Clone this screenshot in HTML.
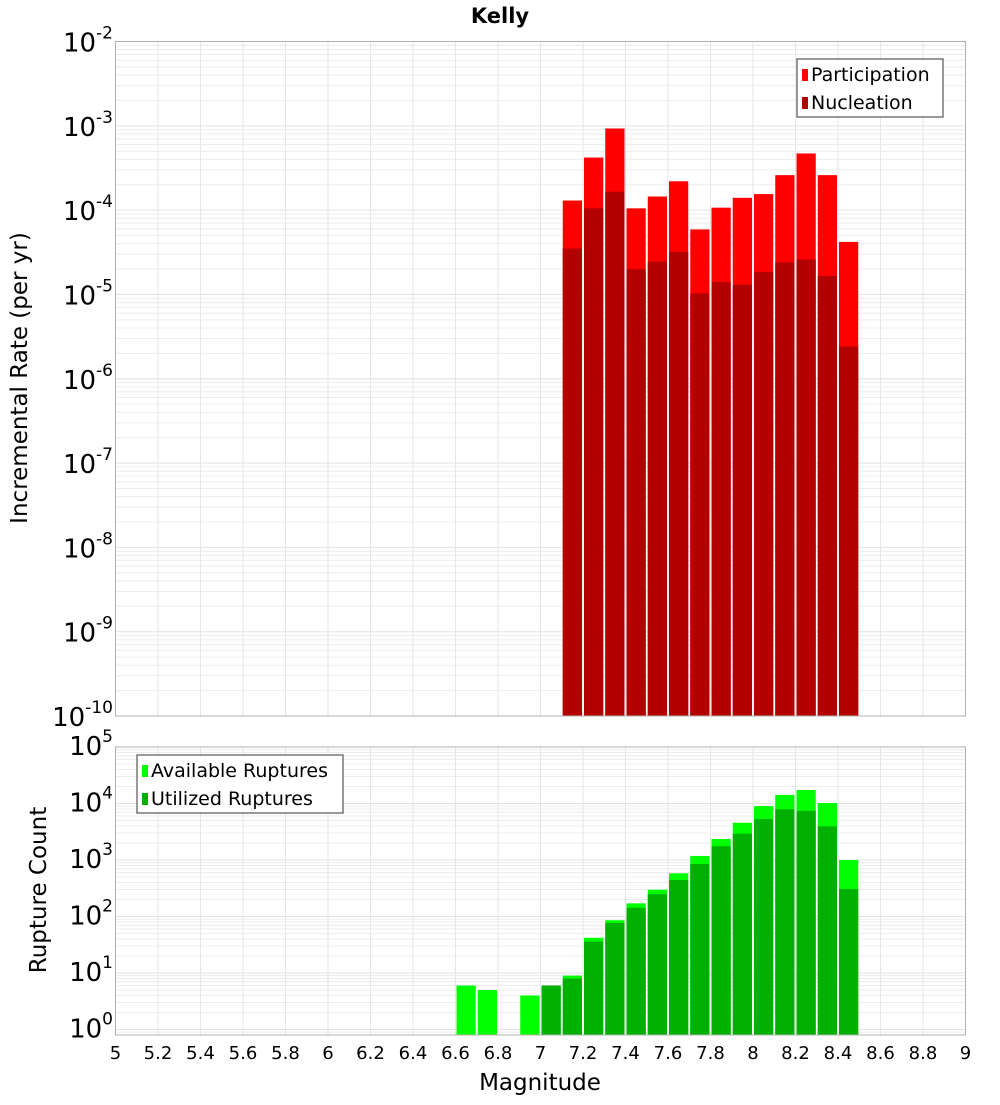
<!DOCTYPE html>
<html><head><meta charset="utf-8"><style>
body{margin:0;background:#fff;}
svg text{font-family:"DejaVu Sans","Liberation Sans",sans-serif;}
</style></head><body>
<svg id="c" width="1000" height="1100" xmlns="http://www.w3.org/2000/svg"></svg>
<script>
const mags=[7.15,7.25,7.35,7.45,7.55,7.65,7.75,7.85,7.95,8.05,8.15,8.25,8.35,8.45];
const participation=[1.3e-4,4.2e-4,9.3e-4,1.05e-4,1.45e-4,2.2e-4,5.9e-5,1.07e-4,1.4e-4,1.55e-4,2.6e-4,4.7e-4,2.6e-4,4.2e-5];
const nucleation=[3.5e-5,1.05e-4,1.65e-4,2.0e-5,2.45e-5,3.2e-5,1.03e-5,1.4e-5,1.3e-5,1.85e-5,2.4e-5,2.6e-5,1.65e-5,2.4e-6];
const countMags=[6.65,6.75,6.95,7.05,7.15,7.25,7.35,7.45,7.55,7.65,7.75,7.85,7.95,8.05,8.15,8.25,8.35,8.45];
const available=[6,5,4,6,9,42,86,171,298,582,1180,2350,4570,9000,14200,17300,10200,1000];
const utilized=[0,0,0,6,8,36,77,143,247,443,850,1750,2920,5300,7900,7400,3950,307];
const xTicks=[5,5.2,5.4,5.6,5.8,6,6.2,6.4,6.6,6.8,7,7.2,7.4,7.6,7.8,8,8.2,8.4,8.6,8.8,9];
const topExps=[-2,-3,-4,-5,-6,-7,-8,-9,-10];
const botExps=[5,4,3,2,1,0];

const svg=document.getElementById('c');
const NS='http://www.w3.org/2000/svg';
function el(tag,attrs,parent){const e=document.createElementNS(NS,tag);for(const k in attrs)e.setAttribute(k,attrs[k]);(parent||svg).appendChild(e);return e;}
const L=115.5,R=965.5;
const X=v=>L+(v-5)/4*(R-L);
const T0=41.5,T1=716;
const YT=v=>T0+(-2-Math.log10(v))/8*(T1-T0);
const B0=747,B1=1035,bmin=-0.097,bmax=5;
const YB=v=>B0+(bmax-Math.log10(v))/(bmax-bmin)*(B1-B0);

function grid(top,bot,Y,emin,emax){
  const g=el('g',{});
  
  
  for(let e=Math.floor(emin);e<=emax;e++){for(let m=1;m<10;m++){const v=m*Math.pow(10,e);const y=Y(v);if(y<top-0.1||y>bot+0.1)continue;
    el('line',{x1:L,x2:R,y1:y,y2:y,stroke:m==1?'#e2e2e2':'#ececec','stroke-width':1},g);}}
  xTicks.forEach(t=>{const x=X(t);el('line',{x1:x,x2:x,y1:top,y2:bot,stroke:'#e6e6e6','stroke-width':1},g);});
}
grid(T0,T1,YT,-10,-2);
grid(B0,B1,YB,-1,5);

function bars(ms,vals,color,Y,base,name){
  const g=el('g',{});
  
  
  ms.forEach((m,i)=>{if(vals[i]<=0)return;const x0=X(m-0.05)+1,x1=X(m+0.05)-1;const y=Y(vals[i]);
    const r=el('rect',{x:x0,y:y,width:x1-x0,height:base-y,fill:color},g);
    
    });
}
bars(mags,participation,'#ff0000',YT,T1,'participation');
bars(mags,nucleation,'#b30000',YT,T1,'nucleation');
bars(countMags,available,'#00ff00',YB,B1,'available-ruptures');
bars(countMags,utilized,'#00b000',YB,B1,'utilized-ruptures');

el('rect',{x:L,y:T0,width:R-L,height:T1-T0,fill:'none',stroke:'#b0b0b0'});
el('rect',{x:L,y:B0,width:R-L,height:B1-B0,fill:'none',stroke:'#b0b0b0'});

function ylab(exp,y,name){const t=el('text',{x:113,y:y+10,'text-anchor':'end','font-size':26,fill:'#000'});
  
  
  t.textContent='10';const s=el('tspan',{dy:-13,'font-size':17},t);s.textContent=String(exp);}
topExps.forEach(e=>ylab(e,YT(Math.pow(10,e)),'y-tick-top'));
botExps.forEach(e=>ylab(e,YB(Math.pow(10,e))-2,'y-tick-bottom'));
xTicks.forEach(t=>{const tx=el('text',{x:X(t),y:1059,'text-anchor':'middle','font-size':18,fill:'#000'});
  
  
  tx.textContent=String(t);});

function legend(x,y,w,items,name){
  const g=el('g',{});
  
  
  el('rect',{x:x,y:y,width:w,height:58,fill:'#fff',stroke:'#333'},g);
  items.forEach((it,i)=>{el('rect',{x:x+5,y:y+10+i*28,width:6,height:12,fill:it[1]},g);
    const t=el('text',{x:x+14,y:y+22+i*28,'font-size':19,fill:'#000'},g);t.textContent=it[0];});
}
legend(797,59,146,[['Participation','#ff0000'],['Nucleation','#b30000']],'legend-top');
legend(137,755,206,[['Available Ruptures','#00ff00'],['Utilized Ruptures','#00b000']],'legend-bottom');

let t=el('text',{x:500,y:23,'text-anchor':'middle','font-size':21,'font-weight':'bold'});
t.textContent='Kelly';
t=el('text',{x:540,y:1090,'text-anchor':'middle','font-size':23});
t.textContent='Magnitude';
t=el('text',{x:0,y:0,'text-anchor':'middle','font-size':23,transform:'translate(27,378) rotate(-90)'});
t.textContent='Incremental Rate (per yr)';
t=el('text',{x:0,y:0,'text-anchor':'middle','font-size':23,transform:'translate(46,890) rotate(-90)'});
t.textContent='Rupture Count';
</script>
</body></html>
